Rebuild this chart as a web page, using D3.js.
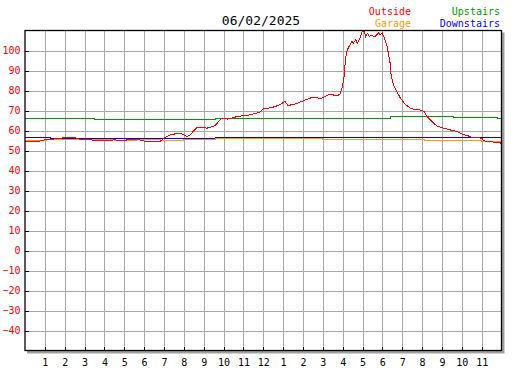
<!DOCTYPE html>
<html lang="en">
<head>
  <meta charset="UTF-8">
  <title>06/02/2025</title>
  <script src="https://d3js.org/d3.v7.min.js"></script>
  <style>
    body { margin: 0; background: #fff; }
    text { font-family: "DejaVu Sans Mono", monospace; }
  </style>
</head>
<body>
  <div id="chart"></div>
  <script>
    // ---- data (hour of day, temperature F) ----
    var outsideT = [0, 0.6, 1.0, 1.3, 1.6, 2.17, 2.5, 2.8, 3.27, 3.93, 4.53, 5.04, 5.19, 5.64, 6.05, 6.3, 6.8,
      7.05, 7.3, 7.66, 7.81, 8.06, 8.16, 8.31, 8.66, 8.92, 9.17, 9.32, 9.57, 9.92, 10.18, 10.43, 10.68,
      11.08, 11.34, 11.84, 11.99, 12.44, 12.75, 13.1, 13.25, 13.6, 14.0, 14.36, 14.61, 14.86, 15.11, 15.26,
      15.52, 15.72, 15.87, 15.97, 16.07, 16.14, 16.2, 16.32, 16.46, 16.54, 16.66, 16.74, 16.88, 16.96, 17.08,
      17.16, 17.24, 17.35, 17.47, 17.58, 17.72, 17.8, 17.88, 18.0, 18.1, 18.22, 18.3, 18.39, 18.44, 18.55,
      18.73, 18.89, 19.14, 19.4, 19.65, 19.9, 20.1, 20.25, 20.49, 20.74, 21.07, 21.41, 21.75, 22.0, 22.33,
      22.5, 23.0, 23.12, 23.43, 23.68, 24.0];
    var outsideV = [54.3, 54.3, 55.3, 55.5, 56, 56.5, 56.5, 55.5, 55.3, 55, 55.3, 54.8, 55.7, 55.7, 54.6, 54.3, 54.6,
      56.5, 57.8, 58.5, 58.7, 57.5, 57, 57.8, 61.5, 61.5, 61.2, 61.5, 62.5, 66.2, 65.7, 66.2, 67,
      67.5, 67.8, 69.2, 70.8, 71.5, 72.5, 74.5, 72.5, 73.2, 74.8, 76.2, 76.8, 75.8, 77, 77.8,
      77.8, 77.3, 78.3, 81.2, 87, 95.3, 99.5, 102, 104.5, 103.7, 105.3, 103.7, 106.2, 109, 110,
      107, 108.7, 107, 107.8, 106.7, 107.8, 109, 107.8, 108.7, 106.2, 102.8, 98.7, 93.7, 87.8, 83,
      79.5, 76.5, 73.2, 71.2, 70.5, 70.3, 69.6, 67, 64.5, 62.3, 61.2, 60.3, 59.5, 58.3, 57.3,
      56.5, 56.2, 54.8, 54.5, 54, 53.7];

    var upstairsT = [0, 3.5, 9.6, 12.9, 18.4, 21.6, 23.8, 24];
    var upstairsV = [66.2, 65.4, 65.9, 66.2, 66.8, 66.4, 66.0, 66.0];

    var downstairsT = [0, 1.3, 9.6, 24];
    var downstairsV = [56.6, 55.9, 56.6, 56.6];

    var garageT = [0, 1.1, 3, 4.5, 5.6, 6.8, 8, 9.6, 12, 15, 20.1, 23, 24];
    var garageV = [55.0, 55.6, 55.5, 55.2, 55.5, 55.1, 55.5, 55.8, 56.1, 55.6, 55.0, 54.4, 54.4];

    var yTicks = [-40, -30, -20, -10, 0, 10, 20, 30, 40, 50, 60, 70, 80, 90, 100];
    var xTicks = d3.range(1, 24);
    var xLabels = ["1","2","3","4","5","6","7","8","9","10","11","12","1","2","3","4","5","6","7","8","9","10","11"];

    var series = [
      {name: "Outside", t: outsideT, v: outsideV, color: "#ff0000", step: false},
      {name: "Upstairs", t: upstairsT, v: upstairsV, color: "#009900", step: true},
      {name: "Garage", t: garageT, v: garageV, color: "#ff9900", step: true},
      {name: "Downstairs", t: downstairsT, v: downstairsV, color: "#0000ff", step: true}
    ];

    var W = 527, H = 370;
    var pLeft = 25, pRight = 501.5, pTop = 30.5, pBottom = 350.5;

    var svg = d3.select("#chart").append("svg")
      .attr("width", W).attr("height", H);

    var x = d3.scaleLinear().domain([0, 24]).range([pLeft, pRight]);
    var y = d3.scaleLinear().domain([-50, 110]).range([pBottom, pTop]);

    // shadow of the plot frame
    svg.append("rect")
      .attr("x", pLeft + 2).attr("y", pTop + 2)
      .attr("width", pRight - pLeft + 1).attr("height", pBottom - pTop + 1)
      .attr("fill", "#a0a0a0");
    svg.append("rect")
      .attr("x", pLeft).attr("y", pTop)
      .attr("width", pRight - pLeft).attr("height", pBottom - pTop)
      .attr("fill", "#fff");

    // grid
    var grid = svg.append("g").attr("stroke", "#a8a8a8").attr("stroke-width", 1)
      .attr("shape-rendering", "crispEdges");
    grid.selectAll("line.h").data(yTicks).enter().append("line")
      .attr("x1", pLeft).attr("x2", pRight)
      .attr("y1", function(d) { return Math.round(y(d)) + 0.5; })
      .attr("y2", function(d) { return Math.round(y(d)) + 0.5; });
    grid.selectAll("line.v").data(xTicks).enter().append("line")
      .attr("y1", pTop).attr("y2", pBottom)
      .attr("x1", function(d) { return Math.round(x(d)) + 0.5; })
      .attr("x2", function(d) { return Math.round(x(d)) + 0.5; });

    // lines
    svg.append("clipPath").attr("id", "clip").append("rect")
      .attr("x", pLeft).attr("y", pTop).attr("width", pRight - pLeft).attr("height", pBottom - pTop);
    var plot = svg.append("g").attr("clip-path", "url(#clip)");
    series.slice().reverse().forEach(function(s) {
      var pts = s.t.map(function(t, i) { return [t, s.v[i]]; });
      var line = d3.line()
        .x(function(d) { return x(d[0]); })
        .y(function(d) { return y(d[1]); })
        .curve(s.step ? d3.curveStepAfter : d3.curveLinear);
      plot.append("path")
        .attr("d", line(pts))
        .attr("fill", "none")
        .attr("stroke", s.color)
        .attr("stroke-width", 1)
        .attr("shape-rendering", "crispEdges");
    });

    // axes
    var yAxis = svg.append("g").attr("transform", "translate(" + pLeft + ",0)")
      .call(d3.axisLeft(y).tickValues(yTicks).tickSizeInner(-4).tickSizeOuter(0).tickPadding(4.5));
    yAxis.select(".domain").remove();
    yAxis.selectAll("line").attr("stroke", "#000").attr("shape-rendering", "crispEdges");
    yAxis.selectAll("text").attr("fill", "#ff0000").style("font-size", "10px")
      .style("font-family", "'DejaVu Sans Mono', monospace");

    var xAxis = svg.append("g").attr("transform", "translate(0," + pBottom + ")")
      .call(d3.axisBottom(x).tickValues(xTicks).tickSizeInner(-4).tickSizeOuter(0).tickPadding(8)
        .tickFormat(function(d, i) { return xLabels[i]; }));
    xAxis.select(".domain").remove();
    xAxis.selectAll("line").attr("stroke", "#000").attr("shape-rendering", "crispEdges");
    xAxis.selectAll("text").attr("fill", "#000").style("font-size", "10px")
      .style("font-family", "'DejaVu Sans Mono', monospace");

    // frame
    svg.append("rect")
      .attr("x", pLeft).attr("y", pTop)
      .attr("width", pRight - pLeft).attr("height", pBottom - pTop)
      .attr("fill", "none").attr("stroke", "#000").attr("stroke-width", 1.3);

    // title
    svg.append("text").attr("x", 261).attr("y", 25)
      .attr("text-anchor", "middle").style("font-size", "13px").attr("fill", "#000")
      .text("06/02/2025");

    // legend
    var legendPos = [[411, 15], [500, 15], [411, 27], [500, 27]];
    series.forEach(function(s, i) {
      svg.append("text")
        .attr("x", legendPos[i][0]).attr("y", legendPos[i][1])
        .attr("text-anchor", "end").style("font-size", "10px")
        .attr("fill", s.color)
        .text(s.name);
    });
  </script>
</body>
</html>
